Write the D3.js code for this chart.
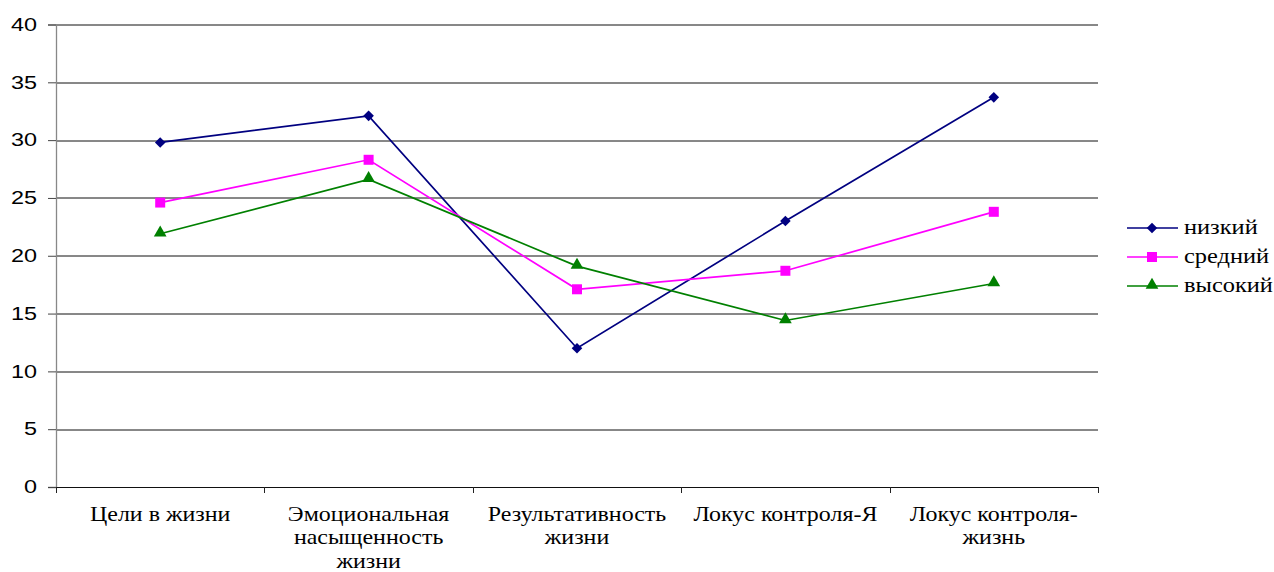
<!DOCTYPE html>
<html>
<head>
<meta charset="utf-8">
<script src="https://cdn.jsdelivr.net/npm/d3@7"></script>
<style>
  body { margin: 0; background: #fff; }
  svg { display: block; }
</style>
</head>
<body>
<div id="chart"></div>
<script>
// data
const categories = [
  'Цели в жизни',
  'Эмоциональная насыщенность жизни',
  'Результативность жизни',
  'Локус контроля-Я',
  'Локус контроля-жизнь'
];
const seriesNames = ['низкий', 'средний', 'высокий'];
const lowValues = [29.8, 32.1, 12.0, 23.0, 33.7];
const midValues = [24.6, 28.3, 17.1, 18.7, 23.8];
const highValues = [21.9, 26.6, 19.1, 14.4, 17.6];
const yTicks = [0, 5, 10, 15, 20, 25, 30, 35, 40];

const seriesColors = ['#000080', '#ff00ff', '#008000'];
const seriesSymbols = ['diamond', 'square', 'triangle'];

const SERIF = '"Liberation Serif", "DejaVu Serif", serif';
const SANS = '"Liberation Sans", Arial, sans-serif';

const option = {
  width: 1274,
  height: 572,
  margin: {top: 24.5, left: 56, right: 176, bottom: 85}
};

const series = [lowValues, midValues, highValues].map((values, i) => ({
  name: seriesNames[i],
  color: seriesColors[i],
  symbol: seriesSymbols[i],
  values: values
}));

const innerW = option.width - option.margin.left - option.margin.right;
const innerH = option.height - option.margin.top - option.margin.bottom;

const svg = d3.select('#chart')
    .append('svg')
    .attr('width', option.width)
    .attr('height', option.height);

const g = svg.append('g')
    .attr('transform', 'translate(' + option.margin.left + ',' + option.margin.top + ')');

const xScale = d3.scaleBand().domain(categories).range([0, innerW]);
const yScale = d3.scaleLinear().domain([0, 40]).range([innerH, 0]);

// the source picture is stretched sideways, so widen glyphs a bit
function stretch(sel, factor) {
  sel.each(function() {
    const w = this.getComputedTextLength();
    d3.select(this)
        .attr('textLength', w * factor)
        .attr('lengthAdjust', 'spacingAndGlyphs');
  });
}

// gridlines
g.append('g')
    .selectAll('line')
    .data(yTicks.filter((d) => d > 0))
    .enter()
    .append('line')
    .attr('x1', 0)
    .attr('x2', innerW)
    .attr('y1', (d) => Math.round(yScale(d)) + 0.5)
    .attr('y2', (d) => Math.round(yScale(d)) + 0.5)
    .attr('stroke', '#111')
    .attr('stroke-width', 1);

// y axis
const yAxis = g.append('g')
    .call(d3.axisLeft(yScale).tickValues(yTicks).tickSize(8).tickPadding(11));
yAxis.attr('font-family', null);
yAxis.select('.domain').attr('stroke', '#888').attr('stroke-width', 1.3);
yAxis.selectAll('.tick line').attr('stroke', '#444');
yAxis.selectAll('.tick text')
    .style('font-family', SANS)
    .style('font-size', '18px')
    .attr('fill', '#000')
    .call(stretch, 1.3);

// x axis
const xAxis = g.append('g')
    .attr('transform', 'translate(0,' + innerH + ')')
    .call(d3.axisBottom(xScale).tickSize(0).tickPadding(19));
xAxis.attr('font-family', null);
xAxis.select('.domain').attr('stroke', '#111').attr('stroke-width', 1);
xAxis.selectAll('.tick text')
    .style('font-family', SERIF)
    .style('font-size', '21px')
    .attr('fill', '#000')
    .call(wrap, 165);

// x ticks at band edges
const edges = categories.map((c) => xScale(c)).concat([innerW]);
g.append('g')
    .selectAll('line')
    .data(edges)
    .enter()
    .append('line')
    .attr('x1', (d) => Math.round(d) + 0.5)
    .attr('x2', (d) => Math.round(d) + 0.5)
    .attr('y1', innerH)
    .attr('y2', innerH + 6)
    .attr('stroke', '#222');

function symbolPath(type, size) {
  if (type === 'triangle') return d3.symbol(d3.symbolTriangle, size)();
  return d3.symbol(d3.symbolSquare, size)();
}
function symbolTransform(type) {
  return type === 'diamond' ? ' rotate(45)' : (type === 'triangle' ? ' translate(0,-1)' : '');
}
const symbolSizes = {diamond: 56, square: 100, triangle: 70};

const line = d3.line()
    .x((d, i) => xScale(categories[i]) + xScale.bandwidth() / 2)
    .y((d) => yScale(d));

series.forEach((s) => {
  g.append('path')
      .datum(s.values)
      .attr('fill', 'none')
      .attr('stroke', s.color)
      .attr('stroke-width', 1.7)
      .attr('d', line);
  g.append('g')
      .selectAll('path')
      .data(s.values)
      .enter()
      .append('path')
      .attr('d', symbolPath(s.symbol, symbolSizes[s.symbol]))
      .attr('transform', (d, i) => 'translate(' + (xScale(categories[i]) + xScale.bandwidth() / 2) +
          ',' + yScale(d) + ')' + symbolTransform(s.symbol))
      .attr('fill', s.color);
});

// legend
const legend = svg.append('g').attr('transform', 'translate(1127,228)');
const rows = legend.selectAll('g')
    .data(series)
    .enter()
    .append('g')
    .attr('transform', (d, i) => 'translate(0,' + (i * 29) + ')');
rows.append('line')
    .attr('x1', 0).attr('x2', 51)
    .attr('stroke', (d) => d.color)
    .attr('stroke-width', 1.7);
rows.append('path')
    .attr('d', (d) => symbolPath(d.symbol, symbolSizes[d.symbol]))
    .attr('transform', (d) => 'translate(25,0)' + symbolTransform(d.symbol))
    .attr('fill', (d) => d.color);
rows.append('text')
    .attr('x', 57)
    .attr('dy', '0.3em')
    .style('font-family', SERIF)
    .style('font-size', '20px')
    .text((d) => d.name)
    .call(stretch, 1.22);

function wrap(text, width) {
  text.each(function() {
    const t = d3.select(this);
    const words = t.text().replace(/-/g, '- ').split(/\s+/);
    const y = t.attr('y');
    const lines = [];
    let current = '';
    t.text(null);
    const probe = t.append('tspan');
    words.forEach((w) => {
      const joiner = current === '' || current.endsWith('-') ? '' : ' ';
      const test = current + joiner + w;
      probe.text(test);
      if (probe.node().getComputedTextLength() > width && current !== '') {
        lines.push(current);
        current = w;
      } else {
        current = test;
      }
    });
    lines.push(current);
    probe.remove();
    lines.forEach((l, i) => {
      const ts = t.append('tspan')
          .attr('x', 0)
          .attr('y', y)
          .attr('dy', (0.71 + i * 1.12) + 'em')
          .text(l);
      ts.attr('textLength', ts.node().getComputedTextLength() * 1.14)
          .attr('lengthAdjust', 'spacingAndGlyphs');
    });
  });
}
</script>
</body>
</html>
